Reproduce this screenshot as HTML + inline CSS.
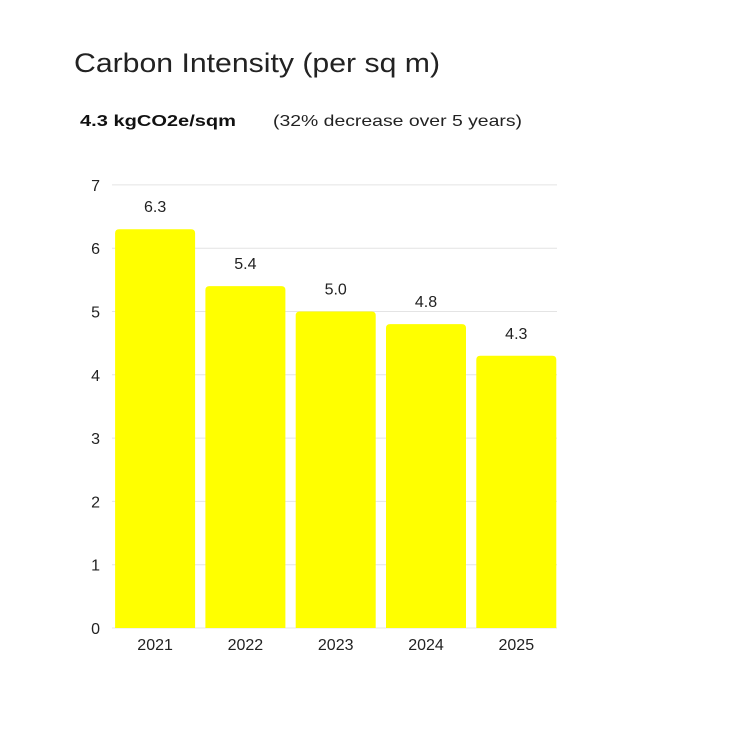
<!DOCTYPE html>
<html><head><meta charset="utf-8"><style>
body{margin:0;background:#fff;width:740px;height:740px;overflow:hidden;font-family:"Liberation Sans",sans-serif}
</style></head><body>
<svg width="740" height="740" xmlns="http://www.w3.org/2000/svg">
<text x="74" y="72" font-size="27" fill="#222" textLength="366" lengthAdjust="spacingAndGlyphs">Carbon Intensity (per sq m)</text>
<text x="80" y="126" font-size="16" font-weight="bold" fill="#111" textLength="156" lengthAdjust="spacingAndGlyphs">4.3 kgCO2e/sqm</text>
<text x="273" y="126" font-size="16" fill="#222" textLength="249" lengthAdjust="spacingAndGlyphs">(32% decrease over 5 years)</text>
<g id="grid"></g><g id="bars"></g><g id="labels"></g>
</svg>
<script>
const categories=["2021","2022","2023","2024","2025"];
const values=[6.3,5.4,5.0,4.8,4.3];
const valueLabels=["6.3","5.4","5.0","4.8","4.3"];
const yTicks=[0,1,2,3,4,5,6,7];
const NS="http://www.w3.org/2000/svg";
const y0=628,pxPer=63.3,x0=110.5,step=90.3,bw=80;
const y=v=>y0-v*pxPer;
const x=i=>x0+i*step+4.6;
function mk(t,a,p){const e=document.createElementNS(NS,t);for(const k in a)e.setAttribute(k,a[k]);p.appendChild(e);return e;}
const g=document.getElementById('grid'),b=document.getElementById('bars'),l=document.getElementById('labels');
yTicks.forEach(t=>{
 const ln=mk('line',{x1:112,x2:557,y1:y(t),y2:y(t),stroke:'#e4e4e4','stroke-width':1},g);
 
 
 const tx=mk('text',{x:100,y:y(t)+6,'font-size':16,fill:'#222','text-anchor':'end'},g);
 tx.textContent=t;
 
 
});
categories.forEach((c,i)=>{
 const v=values[i],top=y(v),r=4;
 const d=`M${x(i)},${y0}V${top+r}Q${x(i)},${top} ${x(i)+r},${top}H${x(i)+bw-r}Q${x(i)+bw},${top} ${x(i)+bw},${top+r}V${y0}Z`;
 const p=mk('path',{d:d,fill:'#ffff00'},b);
 
 
 const vl=mk('text',{x:x(i)+bw/2,y:top-17,'font-size':16,fill:'#222','text-anchor':'middle'},l);
 vl.textContent=valueLabels[i];
 
 
 const cl=mk('text',{x:x(i)+bw/2,y:650,'font-size':16,fill:'#222','text-anchor':'middle'},l);
 cl.textContent=c;
 
 
});
</script>
</body></html>
